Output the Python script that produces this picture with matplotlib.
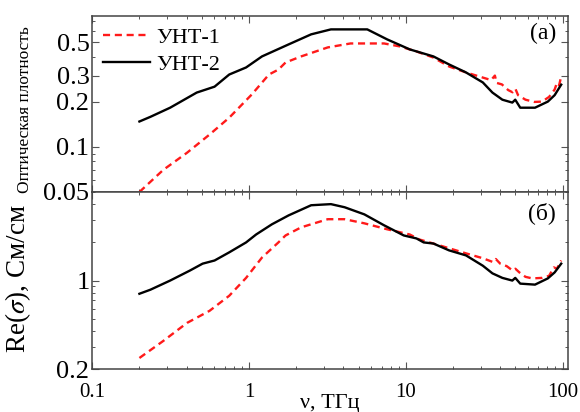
import numpy as np
import matplotlib
matplotlib.use('Agg')
import matplotlib.pyplot as plt
from matplotlib.ticker import FixedLocator, NullFormatter, LogLocator, FixedFormatter

plt.rcParams['font.family'] = ['Liberation Serif', 'DejaVu Serif']
plt.rcParams['mathtext.fontset'] = 'stix'

# (a) optical density
f_a1 = [0.2, 0.284, 0.402, 0.56, 0.748, 1.04, 1.34, 1.54, 1.71, 2.15, 3.18, 4.44, 7.27, 9.17,
        11.7, 15.0, 18.9, 24.2, 31.0, 35.0, 37.0, 38.0, 41.0, 45.0, 48.0, 50.0, 52.0, 58.0,
        66.0, 74.0, 82.0, 89.0, 92.0, 95.0, 98.0]
od_a1 = [0.05, 0.0703, 0.0914, 0.121, 0.157, 0.224, 0.305, 0.329, 0.367, 0.403, 0.463, 0.492,
         0.492, 0.470, 0.435, 0.396, 0.345, 0.315, 0.291, 0.280, 0.300, 0.268, 0.262, 0.240,
         0.232, 0.245, 0.222, 0.207, 0.200, 0.201, 0.216, 0.242, 0.268, 0.258, 0.296]
f_a2 = [0.2, 0.235, 0.314, 0.464, 0.603, 0.748, 0.958, 1.21, 1.79, 2.49, 3.33, 5.68, 7.60,
        10.6, 15.0, 18.9, 24.2, 31.0, 35.7, 41.3, 47.8, 49.9, 53.7, 66.7, 80.5, 89.0, 98.0]
od_a2 = [0.148, 0.159, 0.183, 0.231, 0.253, 0.305, 0.340, 0.403, 0.485, 0.566, 0.611, 0.611,
         0.524, 0.449, 0.403, 0.356, 0.315, 0.270, 0.231, 0.207, 0.198, 0.207, 0.183, 0.183,
         0.201, 0.222, 0.261]

# (б) conductivity
f_b1 = [0.2, 0.284, 0.402, 0.56, 0.748, 0.958, 1.21, 1.54, 1.71, 2.15, 3.18, 4.07, 5.44, 7.60,
        10.6, 12.2, 15.0, 24.2, 31.0, 36.0, 37.5, 40.0, 44.0, 48.0, 50.0, 53.0, 58.0, 64.0,
        74.0, 82.0, 88.0, 92.0, 98.0]
s_b1 = [0.245, 0.334, 0.463, 0.577, 0.759, 1.05, 1.52, 2.0, 2.27, 2.63, 3.05, 3.05, 2.83, 2.54,
        2.31, 2.11, 1.96, 1.64, 1.50, 1.40, 1.48, 1.36, 1.30, 1.20, 1.24, 1.16, 1.07, 1.04,
        1.05, 1.09, 1.27, 1.24, 1.44]
f_b2 = [0.2, 0.235, 0.314, 0.42, 0.506, 0.603, 0.748, 0.958, 1.11, 1.40, 1.79, 2.49, 3.33,
        4.07, 5.44, 7.27, 9.71, 11.7, 13.0, 15.0, 18.9, 24.2, 31.0, 35.7, 41.3, 47.8, 49.9,
        53.7, 66.7, 80.5, 89.0, 98.0]
s_b2 = [0.787, 0.847, 1.0, 1.20, 1.36, 1.44, 1.67, 2.0, 2.31, 2.78, 3.27, 3.93, 4.01, 3.79,
        3.33, 2.73, 2.27, 2.15, 2.0, 1.96, 1.73, 1.58, 1.31, 1.14, 1.05, 1.0, 1.05, 0.946,
        0.929, 1.04, 1.16, 1.36]

fig = plt.figure(figsize=(5.8, 4.12), dpi=100)
ax1 = fig.add_axes([0.159, 0.534, 0.820, 0.427])
ax2 = fig.add_axes([0.159, 0.104, 0.820, 0.430], sharex=ax1)

red = dict(color='#ff1a1a', lw=1.7, dashes=(3.0, 2.0))
blk = dict(color='black', lw=1.7)

ax1.plot(f_a1, od_a1, label='УНТ-1', **red)
ax1.plot(f_a2, od_a2, label='УНТ-2', **blk)
ax2.plot(f_b1, s_b1, **red)
ax2.plot(f_b2, s_b2, **blk)

for ax in (ax1, ax2):
    ax.set_xscale('log')
    ax.set_yscale('log')
    ax.set_xlim(0.1, 108)
    ax.tick_params(which='both', direction='in', top=True, right=True, color='#555')
    ax.tick_params(which='major', length=5, width=0.8)
    ax.tick_params(which='minor', length=2.5, width=0.7)
    ax.tick_params(axis='y', labelsize=19, pad=2)
    ax.tick_params(axis='x', labelsize=15, pad=10)
    for s in ax.spines.values():
        s.set_color('#444')
        s.set_linewidth(1.1)

ax1.set_ylim(0.05, 0.75)
ax1.yaxis.set_major_locator(FixedLocator([0.05, 0.1, 0.2, 0.3, 0.5]))
ax1.yaxis.set_major_formatter(FixedFormatter(['0.05', '0.1', '0.2', '0.3', '0.5']))
ax1.yaxis.set_minor_locator(LogLocator(base=10, subs=np.arange(2, 10)))
ax1.yaxis.set_minor_formatter(NullFormatter())
ax1.tick_params(axis='x', labelbottom=False)

ax2.set_ylim(0.2, 5)
ax2.yaxis.set_major_locator(FixedLocator([0.2, 1]))
ax2.yaxis.set_major_formatter(FixedFormatter(['0.2', '1']))
ax2.yaxis.set_minor_locator(LogLocator(base=10, subs=np.arange(2, 10)))
ax2.yaxis.set_minor_formatter(NullFormatter())
ax2.xaxis.set_major_locator(FixedLocator([0.1, 1, 10, 100]))
ax2.xaxis.set_major_formatter(FixedFormatter(['0.1', '1', '10', '100']))
ax2.xaxis.set_minor_locator(LogLocator(base=10, subs=np.arange(2, 10)))
ax2.xaxis.set_minor_formatter(NullFormatter())

ax1.set_ylabel('Оптическая плотность', fontsize=12.5)
ax1.yaxis.set_label_coords(-0.125, 0.47)
ax2.set_ylabel(r'Re($\sigma$), См/см', fontsize=19.5)
ax2.yaxis.set_label_coords(-0.125, 0.51)
ax2.set_xlabel('ν, ТГц', fontsize=16, labelpad=-6)

ax1.text(0.975, 0.9, '(a)', transform=ax1.transAxes, ha='right', va='center', fontsize=17)
ax2.text(0.975, 0.88, '(б)', transform=ax2.transAxes, ha='right', va='center', fontsize=17)

ax1.legend(loc='upper left', frameon=False, fontsize=16, handlelength=2.1,
           handletextpad=0.3, labelspacing=0.3, borderaxespad=0.2, borderpad=0.3)

fig.savefig('out.png', dpi=100)
